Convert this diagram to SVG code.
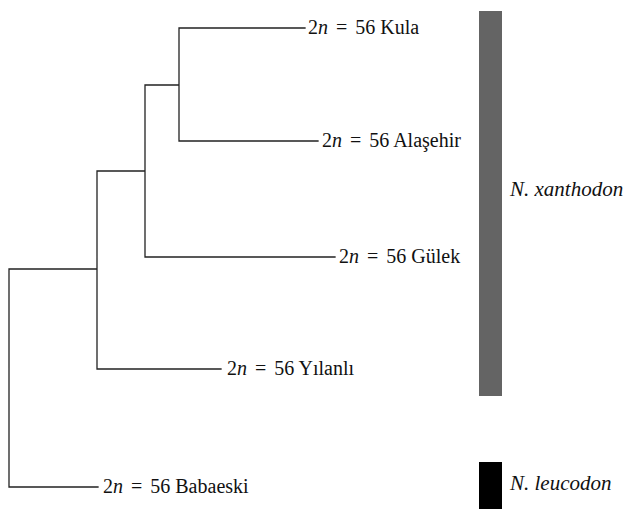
<svg xmlns="http://www.w3.org/2000/svg" width="626" height="515" viewBox="0 0 626 515">
<style>
.br{fill:none;stroke:#222;stroke-width:1.3;stroke-linecap:square}
.t{font-size:20px;fill:#111}
.i{font-style:italic}
.sp{font-size:21px}
</style>
<rect width="626" height="515" fill="#fff"/>
<g id="connectors">
<path class="br" d="M179,28 H305 M179,28 V141 H318 M145,85 H179 M145,85 V257 H335 M97,171 H145 M97,171 V369 H221 M9,269 H97 M9,269 V487 H98"/>
</g>
<g font-family="Liberation Serif, Times New Roman, serif">
<g id="kula"><text class="t" x="308" y="34">2<tspan class="i">n</tspan><tspan dx="3"> = </tspan><tspan dx="3">56 Kula</tspan></text></g>
<g id="alasehir"><text class="t" x="322" y="147">2<tspan class="i">n</tspan><tspan dx="3"> = </tspan><tspan dx="3">56 Alaşehir</tspan></text></g>
<g id="gulek"><text class="t" x="339" y="263">2<tspan class="i">n</tspan><tspan dx="3"> = </tspan><tspan dx="3">56 Gülek</tspan></text></g>
<g id="yilanli"><text class="t" x="227" y="375">2<tspan class="i">n</tspan><tspan dx="3"> = </tspan><tspan dx="3">56 Yılanlı</tspan></text></g>
<g id="babaeski"><text class="t" x="103" y="493">2<tspan class="i">n</tspan><tspan dx="3"> = </tspan><tspan dx="3">56 Babaeski</tspan></text></g>
<g id="xanthodon">
<rect x="479" y="11" width="23" height="385" fill="#646464"/>
<text class="t i sp" x="510" y="196">N. xanthodon</text>
</g>
<g id="leucodon">
<rect x="479" y="462" width="23" height="47" fill="#000"/>
<text class="t i sp" x="510" y="490">N. leucodon</text>
</g>
</g>
</svg>
